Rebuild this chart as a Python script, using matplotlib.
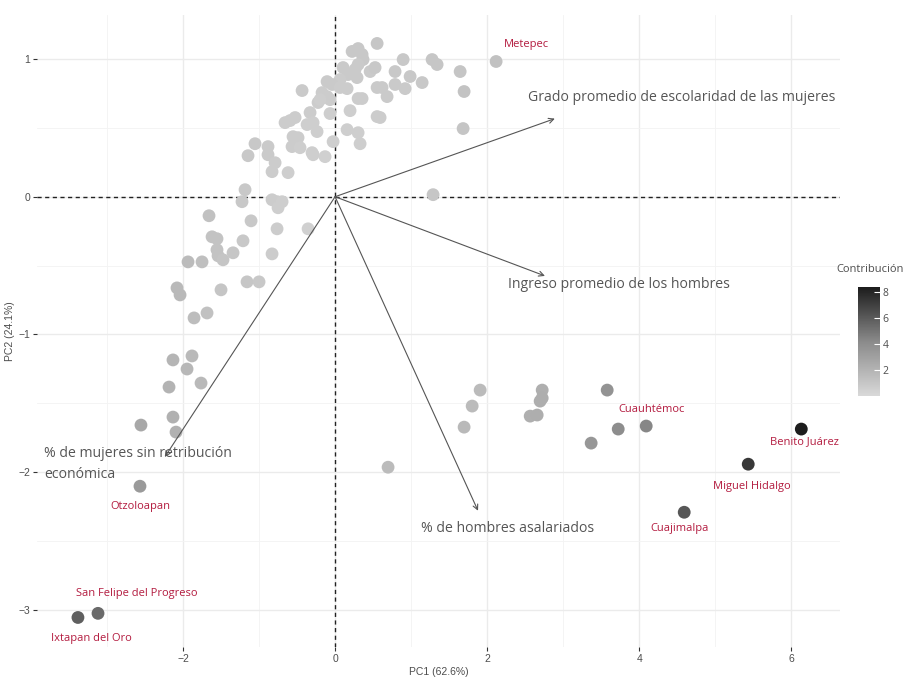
import matplotlib
matplotlib.use("Agg")
import matplotlib.pyplot as plt
from matplotlib.colors import LinearSegmentedColormap, Normalize

# Individuals (municipalities) projected on the first two principal components
pc1 = [0.553, 0.224, 0.303, 0.355, 0.368, 0.303, 0.263, 0.289, 0.105, 0.171,
       0.066, 0.461, 0.526, 0.789, 0.895, 0.987, 1.145, 1.276, 1.342, 1.645,
       0.789, 0.921, 0.684, 0.553, 0.618, 0.158, 0.303, 0.355, -0.434, -0.105,
       -0.039, -0.171, -0.105, -0.066, -0.224, -0.066, 0.197, -0.329, -0.368, -0.289,
       -0.237, -0.658, -0.592, -0.526, 0.553, 0.592, 0.158, 0.303, 0.329, -0.026,
       -0.553, -0.487, -0.566, -0.461, -0.303, -0.289, -0.132, -1.053, -1.145, -0.882,
       -0.882, -0.789, -0.829, -0.618, 1.289, -1.184, -1.224, -0.829, -0.763, -0.697,
       -0.750, -1.658, -1.105, -0.763, -0.355, -1.618, -1.553, -1.211, -1.553, -1.539,
       -1.474, -1.342, -1.934, -1.750, -0.829, -1.158, -1.000, -2.079, -2.039, -1.500,
       -1.855, -1.684, 1.697, 1.684, 0.066, -0.197,
       -2.132, -1.882, -1.947, -2.184, -1.763, -2.132, -2.092, -2.553, 0.697,
       1.908, 1.803, 1.697, 2.724, 2.724, 2.697, 2.566, 2.658, 3.579, 3.724, 3.368]
pc2 = [1.113, 1.055, 1.076, 1.033, 0.996, 0.960, 0.924, 0.865, 0.938, 0.887,
       0.851, 0.909, 0.938, 0.909, 0.996, 0.873, 0.829, 0.996, 0.960, 0.909,
       0.815, 0.785, 0.727, 0.793, 0.793, 0.785, 0.713, 0.713, 0.771, 0.836,
       0.815, 0.756, 0.727, 0.705, 0.684, 0.604, 0.625, 0.611, 0.524, 0.538,
       0.473, 0.538, 0.553, 0.575, 0.582, 0.575, 0.487, 0.465, 0.385, 0.400,
       0.436, 0.429, 0.364, 0.356, 0.320, 0.305, 0.291, 0.385, 0.298, 0.364,
       0.305, 0.247, 0.182, 0.175, 0.015, 0.051, -0.036, -0.022, -0.036, -0.036,
       -0.080, -0.138, -0.175, -0.233, -0.233, -0.291, -0.305, -0.320, -0.385, -0.429,
       -0.458, -0.407, -0.473, -0.473, -0.415, -0.618, -0.618, -0.662, -0.713, -0.676,
       -0.880, -0.844, 0.764, 0.495, 0.793, 0.705,
       -1.185, -1.156, -1.251, -1.382, -1.353, -1.600, -1.709, -1.658, -1.964,
       -1.404, -1.520, -1.673, -1.404, -1.462, -1.484, -1.593, -1.585, -1.404, -1.687, -1.789]
contrib = [1.0, 0.9, 0.9, 0.9, 0.9, 0.8, 0.8, 0.8, 0.8, 0.8,
           0.7, 0.8, 0.9, 0.9, 0.9, 0.9, 0.9, 1.0, 1.0, 1.1,
           0.8, 0.8, 0.8, 0.8, 0.8, 0.7, 0.7, 0.7, 0.8, 0.8,
           0.8, 0.7, 0.7, 0.7, 0.7, 0.6, 0.6, 0.7, 0.6, 0.6,
           0.6, 0.7, 0.7, 0.7, 0.7, 0.7, 0.6, 0.6, 0.6, 0.6,
           0.7, 0.7, 0.7, 0.6, 0.6, 0.6, 0.5, 0.9, 0.9, 0.8,
           0.8, 0.7, 0.7, 0.6, 1.0, 0.9, 0.9, 0.7, 0.7, 0.6,
           0.6, 1.3, 0.9, 0.7, 0.5, 1.2, 1.2, 0.9, 1.2, 1.2,
           1.1, 1.0, 1.6, 1.4, 0.7, 1.0, 0.9, 1.7, 1.7, 1.1,
           1.5, 1.3, 1.2, 1.1, 0.7, 0.6,
           1.9, 1.7, 1.8, 2.0, 1.7, 2.1, 2.1, 2.6, 1.6,
           1.6, 1.6, 1.7, 2.2, 2.3, 2.3, 2.2, 2.3, 3.7, 4.0, 3.5]

# Municipalities highlighted with their names
lab_names = ["Metepec", "Cuauhtémoc", "Benito Juárez", "Miguel Hidalgo",
             "Cuajimalpa", "Otzoloapan", "San Felipe del Progreso", "Ixtapan del Oro"]
lab_pc1 = [2.118, 4.092, 6.132, 5.434, 4.592, -2.566, -3.118, -3.382]
lab_pc2 = [0.982, -1.665, -1.687, -1.942, -2.291, -2.102, -3.025, -3.055]
lab_contrib = [1.3, 4.3, 8.3, 7.3, 6.1, 3.3, 5.4, 5.8]

# Variable loadings (arrow tips)
var_names = ["Grado promedio de escolaridad de las mujeres",
             "Ingreso promedio de los hombres",
             "% de hombres asalariados",
             "% de mujeres sin retribución\neconómica"]
var_pc1 = [2.89, 2.76, 1.88, -2.24]
var_pc2 = [0.567, -0.575, -2.28, -1.89]

# Label placement (data-unit offsets from the point / arrow tip)
lab_offsets = [(0.40, 0.123), (0.07, 0.123), (0.04, -0.088), (0.053, -0.16),
               (-0.066, -0.116), (0.0, -0.15), (0.513, 0.145), (0.18, -0.15)]
var_text_pos = [(2.54, 0.72), (2.27, -0.64), (1.13, -2.41), (-3.83, -1.94)]

cmap = LinearSegmentedColormap.from_list("contrib", ["#d9d9d9", "#8a8a8a", "#1c1c1c"])
norm = Normalize(vmin=0.0, vmax=8.35)

plt.rcParams["font.family"] = ["Open Sans", "DejaVu Sans"]

fig = plt.figure(figsize=(9.10, 6.79), dpi=100)
ax = fig.add_axes([0.0407, 0.047, 0.8823, 0.931])

ax.set_xlim(-3.92, 6.64)
ax.set_ylim(-3.27, 1.32)

ax.set_xticks([-2, 0, 2, 4, 6])
ax.set_xticks([-3, -1, 1, 3, 5], minor=True)
ax.set_yticks([-3, -2, -1, 0, 1])
ax.set_yticks([-2.5, -1.5, -0.5, 0.5], minor=True)
ax.set_axisbelow(True)
ax.grid(True, which="major", color="#ebebeb", linewidth=1.0)
ax.grid(True, which="minor", color="#f3f3f3", linewidth=0.6)
for s in ax.spines.values():
    s.set_visible(False)
ax.tick_params(axis="both", which="major", length=3, width=0.8, color="#333333",
               labelsize=7.5, labelcolor="#4d4d4d", pad=2)
ax.tick_params(axis="both", which="minor", length=0)
for lbl in ax.get_xticklabels() + ax.get_yticklabels():
    lbl.set_family(["Liberation Sans", "DejaVu Sans"])

ax.axhline(0, color="#222222", linestyle=(0, (3, 2.5)), linewidth=1.0, zorder=2)
ax.axvline(0, color="#222222", linestyle=(0, (3, 2.5)), linewidth=1.0, zorder=2)

all_x = pc1 + lab_pc1
all_y = pc2 + lab_pc2
all_c = contrib + lab_contrib
sc = ax.scatter(all_x, all_y, c=all_c, cmap=cmap, norm=norm, s=85,
                linewidths=0, zorder=3)

for name, x, y, (dx, dy) in zip(lab_names, lab_pc1, lab_pc2, lab_offsets):
    ax.text(x + dx, y + dy, name, color="#b31b3f", fontsize=8,
            ha="center", va="center", zorder=5)

for name, x, y, (tx, ty) in zip(var_names, var_pc1, var_pc2, var_text_pos):
    ax.annotate("", xy=(x, y), xytext=(0, 0),
                arrowprops=dict(arrowstyle="->", color="#555555", lw=0.8,
                                shrinkA=0, shrinkB=0, mutation_scale=9),
                zorder=4)
    ax.text(tx, ty, name, color="#555555", fontsize=10.1, ha="left",
            va="center", linespacing=1.5, zorder=5)

ax.set_xlabel("PC1 (62.6%)", fontsize=7.5, color="#4d4d4d", labelpad=2,
              family=["Liberation Sans", "DejaVu Sans"])
ax.set_ylabel("PC2 (24.1%)", fontsize=7.5, color="#4d4d4d", labelpad=2,
              family=["Liberation Sans", "DejaVu Sans"])

# Colour bar for the contribution
cax = fig.add_axes([858 / 910, 1 - 396 / 679, 22 / 910, 109 / 679])
cb = fig.colorbar(sc, cax=cax, ticks=[2, 4, 6, 8])
cb.outline.set_visible(False)
cb.ax.tick_params(length=4, width=0.8, color="white", labelsize=7.5,
                  labelcolor="#4d4d4d", pad=2, direction="in")
fig.text(836 / 910, 1 - 270 / 679, "Contribución", fontsize=8, color="#4d4d4d",
         ha="left", va="center")

fig.savefig("out.png", dpi=100)
